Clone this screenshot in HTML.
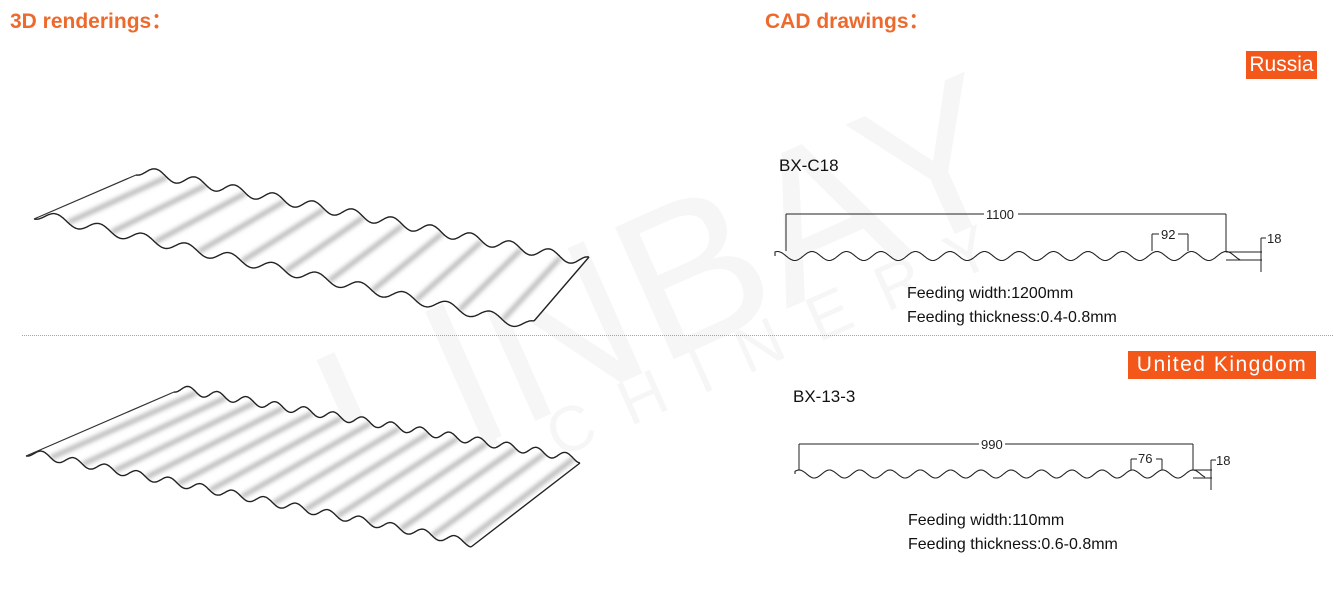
<!DOCTYPE html>
<html><head><meta charset="utf-8">
<style>
html,body{margin:0;padding:0;background:#fff;}
body{width:1333px;height:614px;position:relative;overflow:hidden;font-family:"Liberation Sans",sans-serif;}
.h{position:absolute;color:#ee6a2c;font-weight:bold;font-size:21px;font-family:"Liberation Sans","Noto Sans CJK SC",sans-serif;}
.tag{position:absolute;background:#f4571a;color:#fff;font-size:21px;line-height:28px;height:28px;text-align:center;}
.t{position:absolute;color:#111;font-size:16px;}
.wm{position:absolute;color:rgba(0,0,0,0.035);white-space:nowrap;transform-origin:center;}
svg{position:absolute;left:0;top:0;}
</style></head><body>
<div class="wm" style="left:300px;top:170px;width:700px;text-align:center;font-size:210px;transform:rotate(-24deg);">LINBAY</div>
<div class="wm" style="left:360px;top:330px;width:700px;text-align:center;font-size:64px;letter-spacing:32px;transform:rotate(-24deg);">MACHINERY</div>

<div class="h" style="left:10px;top:5px;">3D renderings：</div>
<div class="h" style="left:765px;top:5px;">CAD drawings：</div>
<div class="tag" style="left:1246px;top:51px;width:71px;">Russia</div>
<div class="tag" style="left:1128px;top:351px;width:188px;letter-spacing:1.5px;">United Kingdom</div>
<div style="position:absolute;left:22px;top:335px;width:1311px;border-top:1px dotted #f08a5d;"></div>

<div class="t" style="left:779px;top:156px;font-size:17px;">BX-C18</div>
<div class="t" style="left:907px;top:285px;">Feeding width:1200mm</div>
<div class="t" style="left:907px;top:309px;">Feeding thickness:0.4-0.8mm</div>
<div class="t" style="left:793px;top:387px;font-size:17px;">BX-13-3</div>
<div class="t" style="left:908px;top:512px;">Feeding width:110mm</div>
<div class="t" style="left:908px;top:536px;">Feeding thickness:0.6-0.8mm</div>

<svg id="s" width="1333" height="614" xmlns="http://www.w3.org/2000/svg">
<defs><filter id="b" x="-20%" y="-20%" width="140%" height="140%"><feGaussianBlur stdDeviation="2.5"/></filter>
<clipPath id="c1"><path id="cp1" d=""/></clipPath><clipPath id="c2"><path id="cp2" d=""/></clipPath></defs>
<g id="g"></g>
<g font-family="Liberation Sans, sans-serif" font-size="13" fill="#222">
<rect x="984" y="207" width="34" height="14" fill="#fff"/><text x="986" y="219">1100</text>
<rect x="1159" y="228" width="19" height="13" fill="#fff"/><text x="1161" y="239">92</text>
<text x="1267" y="243">18</text>
<rect x="979" y="437" width="26" height="14" fill="#fff"/><text x="981" y="449">990</text>
<rect x="1137" y="452" width="19" height="13" fill="#fff"/><text x="1138" y="463">76</text>
<text x="1216" y="465">18</text>
</g>
</svg>
<script>
var g=document.getElementById('g');var NS='http://www.w3.org/2000/svg';
function el(t,a){var e=document.createElementNS(NS,t);for(var k in a)e.setAttribute(k,a[k]);g.appendChild(e);return e;}
function sheet(A,B,C,D,n,amp,cid){
 function P(u,v){var fx=A[0]+(D[0]-A[0])*u,fy=A[1]+(D[1]-A[1])*u,bx=B[0]+(C[0]-B[0])*u,by=B[1]+(C[1]-B[1])*u;
  return [fx+(bx-fx)*v, fy+(by-fy)*v + amp*Math.cos(2*Math.PI*n*u)];}
 var N=600,front=[],back=[];
 for(var i=0;i<=N;i++){var u=i/N;front.push(P(u,0));back.push(P(u,1));}
 var s=function(p){return p.map(function(q){return q[0].toFixed(1)+','+q[1].toFixed(1)}).join(' L');};
 var outline='M'+s(front)+' L'+s(back.slice().reverse())+' Z';
 document.getElementById(cid==1?'cp1':'cp2').setAttribute('d',outline);
 el('path',{d:outline,fill:'#fff',stroke:'none'});
 var gg=el('g',{'clip-path':'url(#c'+cid+')'});
 for(var k=0;k<n;k++){var u=(k+0.78)/n;var a=P(u,0),b=P(u,1);
  var l=document.createElementNS(NS,'line');
  l.setAttribute('x1',a[0]);l.setAttribute('y1',a[1]);l.setAttribute('x2',b[0]);l.setAttribute('y2',b[1]);
  l.setAttribute('stroke','#aaa');l.setAttribute('stroke-width','4');l.setAttribute('filter','url(#b)');gg.appendChild(l);}
 el('path',{d:'M'+s(front),fill:'none',stroke:'#222','stroke-width':1.4});
 el('path',{d:'M'+s(back),fill:'none',stroke:'#222','stroke-width':1.4});
 el('line',{x1:A[0],y1:P(0,0)[1],x2:B[0],y2:P(0,1)[1],stroke:'#333','stroke-width':1.2});
 el('line',{x1:D[0],y1:P(1,0)[1],x2:C[0],y2:P(1,1)[1],stroke:'#222','stroke-width':1.4});
}
sheet([34,214],[136,170],[589,262],[534,326],11.5,5,1);
sheet([26,452],[174,388],[580,459],[471,543],14,4,2);
function prof(x0,x1,yc,amp,per,pts){var d='M'+x0+','+yc;for(var x=x0;x<=x1;x+=1){d+=' L'+x+','+(yc+amp*Math.cos(2*Math.PI*(x-pts)/per)).toFixed(1);}return d;}
el('path',{d:prof(775,1240,256,-4.5,34.5,1226),fill:'none',stroke:'#222','stroke-width':1.1});
var L=[[786,214,1226,214],[786,214,786,251],[1226,214,1226,251],[1152,234,1188,234],[1152,234,1152,251],[1188,234,1188,251],
[1226,252,1262,252],[1226,260,1262,260],[1261,238,1261,272],[1261,238,1266,238]];
el('path',{d:prof(795,1205,474,-4,30.3,1193),fill:'none',stroke:'#222','stroke-width':1.1});
L=L.concat([[799,444,1193,444],[799,444,799,470],[1193,444,1193,470],[1131,459,1162,459],[1131,459,1131,470],[1162,459,1162,470],
[1193,470,1212,470],[1193,478,1212,478],[1211,460,1211,490],[1211,460,1216,460]]);
L.forEach(function(l){el('line',{x1:l[0],y1:l[1],x2:l[2],y2:l[3],stroke:'#222','stroke-width':1});});
var r=document.querySelectorAll('rect');for(var i=0;i<r.length;i++){r[i].parentNode.appendChild(r[i]);}
var t=document.querySelectorAll('svg text');for(var i=0;i<t.length;i++){t[i].parentNode.appendChild(t[i]);}
var tg=document.querySelector('svg g[font-family]');document.getElementById('s').appendChild(tg);
</script>
</body></html>
